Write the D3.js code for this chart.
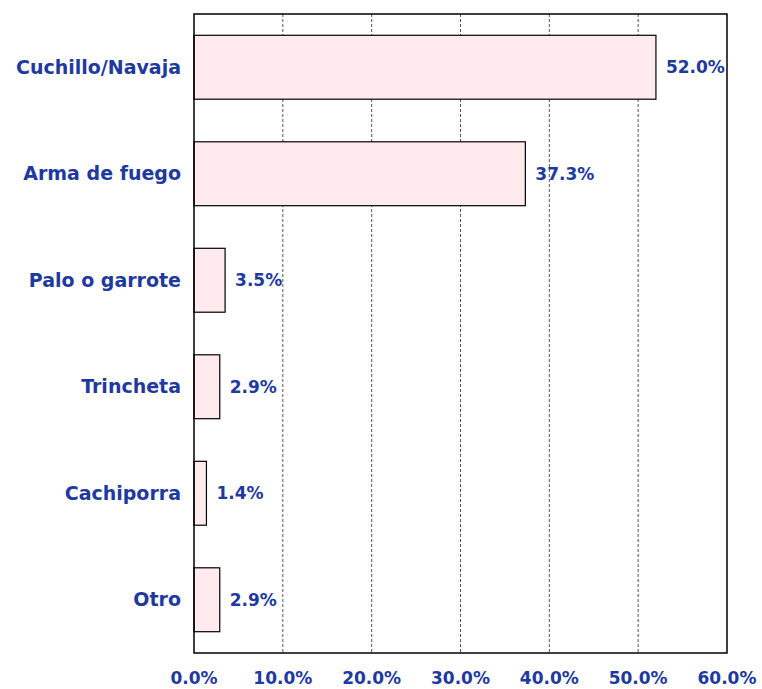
<!DOCTYPE html>
<html>
<head>
<meta charset="utf-8">
<script src="https://cdn.jsdelivr.net/npm/d3@7"></script>
<style>
  body { margin: 0; background: #fff; }
  text { font-family: "DejaVu Sans", Verdana, sans-serif; font-weight: bold; fill: #1f3a9e; }
</style>
</head>
<body>
<svg width="762" height="689"></svg>
<script>
var categories = ["Cuchillo/Navaja", "Arma de fuego", "Palo o garrote", "Trincheta", "Cachiporra", "Otro"];
var values = [52.0, 37.3, 3.5, 2.9, 1.4, 2.9];
var ticks = [0, 10, 20, 30, 40, 50, 60];

var plotL = 194, plotR = 727, plotT = 14, plotB = 653;
var svg = d3.select("svg");

var x = d3.scaleLinear().domain([0, 60]).range([plotL, plotR]);
var y = d3.scaleBand().domain(categories).range([plotT, plotB]).paddingInner(0.4).paddingOuter(0.2);

// gridlines
svg.selectAll("line.grid")
    .data(ticks.slice(1, -1))
    .enter()
    .append("line")
    .attr("class", "grid")
    .attr("x1", function(d) { return x(d); })
    .attr("x2", function(d) { return x(d); })
    .attr("y1", plotT)
    .attr("y2", plotB)
    .style("stroke", "#555")
    .style("stroke-width", "1px")
    .style("stroke-dasharray", "3,2");

// bars
svg.selectAll("rect.bar")
    .data(values)
    .enter()
    .append("rect")
    .attr("class", "bar")
    .attr("x", x(0))
    .attr("y", function(d, i) { return y(categories[i]); })
    .attr("width", function(d) { return x(d) - x(0); })
    .attr("height", y.bandwidth())
    .style("fill", "#ffebee")
    .style("stroke", "black")
    .style("stroke-width", "1.2px");

// frame
svg.append("rect")
    .attr("x", plotL).attr("y", plotT)
    .attr("width", plotR - plotL).attr("height", plotB - plotT)
    .style("fill", "none")
    .style("stroke", "black")
    .style("stroke-width", "1.5px");

// value labels
svg.selectAll("text.val")
    .data(values)
    .enter()
    .append("text")
    .attr("class", "val")
    .attr("x", function(d) { return x(d) + 10; })
    .attr("y", function(d, i) { return y(categories[i]) + y.bandwidth() / 2; })
    .attr("dy", "0.35em")
    .style("font-size", "17px")
    .text(function(d) { return d.toFixed(1) + "%"; });

// category labels
svg.selectAll("text.cat")
    .data(categories)
    .enter()
    .append("text")
    .attr("class", "cat")
    .attr("x", plotL - 13)
    .attr("y", function(d) { return y(d) + y.bandwidth() / 2; })
    .attr("dy", "0.35em")
    .attr("text-anchor", "end")
    .style("font-size", "19px")
    .text(function(d) { return d; });

// tick labels
svg.selectAll("text.tick")
    .data(ticks)
    .enter()
    .append("text")
    .attr("class", "tick")
    .attr("x", function(d) { return x(d); })
    .attr("y", 684)
    .attr("text-anchor", "middle")
    .style("font-size", "17px")
    .text(function(d) { return d.toFixed(1) + "%"; });
</script>
</body>
</html>
